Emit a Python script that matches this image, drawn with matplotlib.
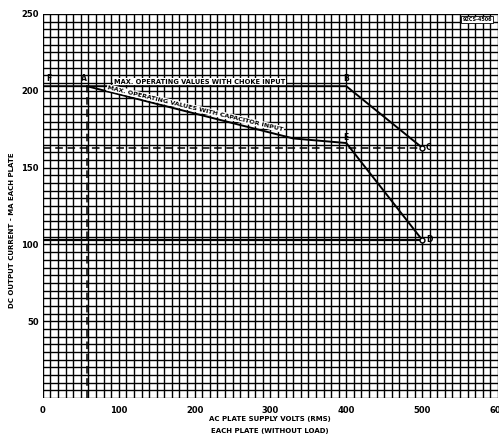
import matplotlib
matplotlib.use("Agg")
import matplotlib.pyplot as plt

# choke input limit curve F-A-B-C
choke_v = [0, 400, 500]
choke_ma = [203, 203, 163]

# capacitor input limit curve A-E-D
cap_v = [58, 330, 400, 500]
cap_ma = [203, 169, 166, 103]

# reference lines
c_level = 163
d_level = 103
a_volts = 58

x_ticks = [0, 100, 200, 300, 400, 500, 600]
y_ticks = [50, 100, 150, 200, 250]

fig = plt.figure(figsize=(4.99, 4.37), dpi=100)
ax = fig.add_axes([0.086, 0.089, 0.912, 0.879])
ax.set_xlim(0, 600)
ax.set_ylim(0, 250)

# graph paper grid
for v in range(0, 601, 10):
    ax.axvline(v, color="black", lw=1.0, zorder=1)
for m in range(0, 251, 5):
    ax.axhline(m, color="black", lw=1.0, zorder=1)
for s in ax.spines.values():
    s.set_visible(False)

ax.set_xticks(x_ticks)
ax.set_yticks(y_ticks)
ax.tick_params(axis="x", length=0, labelsize=6, pad=6)
ax.tick_params(axis="y", length=0, labelsize=6, pad=3)
for lab in ax.get_xticklabels() + ax.get_yticklabels():
    lab.set_fontweight("bold")

# reference lines
ax.plot([0, choke_v[-1]], [c_level, c_level], color="black", lw=1.1, ls=(0, (5, 3)), zorder=3)
ax.plot([0, cap_v[-1]], [d_level, d_level], color="black", lw=1.6, zorder=3)
ax.plot([a_volts, a_volts], [0, cap_ma[0]], color="black", lw=1.1, ls=(0, (5, 3)), zorder=3)

# limit curves
ax.plot(choke_v, choke_ma, color="black", lw=1.4, zorder=4)
ax.plot(cap_v, cap_ma, color="black", lw=1.4, zorder=4)
ax.plot([choke_v[-1], cap_v[-1]], [choke_ma[-1], cap_ma[-1]], ls="none", marker="o",
        ms=3.5, mfc="white", mec="black", mew=1.0, zorder=5)

lbl = dict(fontsize=5.5, fontweight="bold", zorder=6)
ax.text(4, choke_ma[0] + 2, "F", ha="left", va="bottom", **lbl)
ax.text(a_volts, choke_ma[0] + 2, "A", ha="right", va="bottom", **lbl)
ax.text(choke_v[1], choke_ma[1] + 2, "B", ha="center", va="bottom", **lbl)
ax.text(choke_v[2] + 5, choke_ma[2], "C", ha="left", va="center", **lbl)
ax.text(cap_v[2], cap_ma[2] + 1, "E", ha="center", va="bottom", **lbl)
ax.text(cap_v[3] + 5, cap_ma[3], "D", ha="left", va="center", **lbl)

box = dict(facecolor="white", edgecolor="none", pad=0.6)
ax.text(207, 206, "MAX. OPERATING VALUES WITH CHOKE INPUT", ha="center", va="center",
        fontsize=4.8, fontweight="bold", bbox=box, zorder=6)
ax.text(201, 188.5, "MAX. OPERATING VALUES WITH CAPACITOR INPUT", ha="center", va="center",
        fontsize=4.6, fontweight="bold", rotation=-13.5, rotation_mode="anchor",
        bbox=box, zorder=6)

ax.text(592, 248, "92CS-4506", ha="right", va="top", fontsize=3.5, fontweight="bold",
        bbox=dict(facecolor="white", edgecolor="black", lw=0.6, pad=0.8), zorder=6)

fig.text(12 / 499, 1 - 230 / 437, "DC OUTPUT CURRENT - MA EACH PLATE", rotation=90,
         ha="center", va="center", fontsize=5, fontweight="bold")
fig.text(270 / 499, 1 - 419 / 437, "AC PLATE SUPPLY VOLTS (RMS)", ha="center", va="center",
         fontsize=5, fontweight="bold")
fig.text(270 / 499, 1 - 431 / 437, "EACH PLATE (WITHOUT LOAD)", ha="center", va="center",
         fontsize=5, fontweight="bold")

fig.savefig("out.png", dpi=100)
